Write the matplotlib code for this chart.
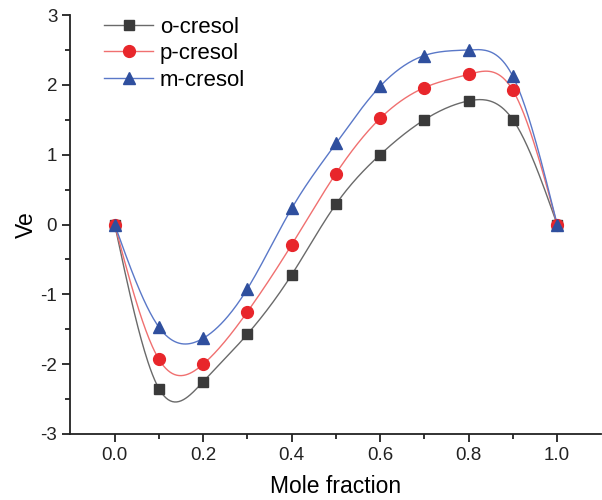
import numpy as np
import matplotlib.pyplot as plt

x = [0.0, 0.1, 0.2, 0.3, 0.4, 0.5, 0.6, 0.7, 0.8, 0.9, 1.0]
o_cresol = [0.0, -2.35, -2.25, -1.57, -0.72, 0.29, 1.0, 1.5, 1.77, 1.5, 0.0]
p_cresol = [0.0, -1.93, -2.0, -1.25, -0.29, 0.73, 1.52, 1.96, 2.15, 1.92, 0.0]
m_cresol = [0.0, -1.47, -1.63, -0.92, 0.23, 1.16, 1.98, 2.42, 2.5, 2.12, 0.0]


def natural_spline(xs, ys, n=400):
    # plain natural cubic spline, only used to draw the smooth connecting line
    xs = np.asarray(xs, float)
    ys = np.asarray(ys, float)
    k = len(xs)
    h = np.diff(xs)
    A = np.zeros((k, k))
    b = np.zeros(k)
    A[0, 0] = A[-1, -1] = 1
    for i in range(1, k - 1):
        A[i, i - 1] = h[i - 1]
        A[i, i] = 2 * (h[i - 1] + h[i])
        A[i, i + 1] = h[i]
        b[i] = 3 * ((ys[i + 1] - ys[i]) / h[i] - (ys[i] - ys[i - 1]) / h[i - 1])
    c = np.linalg.solve(A, b)
    xf = np.linspace(xs[0], xs[-1], n)
    idx = np.clip(np.searchsorted(xs, xf) - 1, 0, k - 2)
    dx = xf - xs[idx]
    bb = (ys[idx + 1] - ys[idx]) / h[idx] - h[idx] * (2 * c[idx] + c[idx + 1]) / 3
    dd = (c[idx + 1] - c[idx]) / (3 * h[idx])
    yf = ys[idx] + bb * dx + c[idx] * dx ** 2 + dd * dx ** 3
    return xf, yf


plt.rcParams['font.family'] = ['Liberation Sans', 'DejaVu Sans']
plt.rcParams['axes.unicode_minus'] = False

fig = plt.figure(figsize=(6.02, 5.0), dpi=100)
ax = fig.add_axes([0.117, 0.132, 0.882, 0.838])

series = [
    ('o-cresol', o_cresol, 's', '#3a3a3a', '#6a6a6a', 7.5),
    ('p-cresol', p_cresol, 'o', '#e8262b', '#f07070', 8.5),
    ('m-cresol', m_cresol, '^', '#2f4f9e', '#5a78c8', 9),
]

for name, ys, mk, mcol, lcol, ms in series:
    xf, yf = natural_spline(x, ys)
    ax.plot(xf, yf, color=lcol, lw=1.0, zorder=2)
    ax.plot(x, ys, linestyle='none', marker=mk, color=mcol, ms=ms, zorder=3)
    ax.plot([], [], color=lcol, lw=1.0, marker=mk, mfc=mcol, mec=mcol, ms=ms, label=name)

ax.set_xlim(-0.1, 1.1)
ax.set_ylim(-3, 3)
ax.set_xticks([0.0, 0.2, 0.4, 0.6, 0.8, 1.0])
ax.set_xticks([0.1, 0.3, 0.5, 0.7, 0.9], minor=True)
ax.set_yticks([-3, -2, -1, 0, 1, 2, 3])
ax.set_yticks([-2.5, -1.5, -0.5, 0.5, 1.5, 2.5], minor=True)
ax.xaxis.set_major_formatter(plt.FormatStrFormatter('%.1f'))

for side in ('top', 'right'):
    ax.spines[side].set_visible(False)
for side in ('left', 'bottom'):
    ax.spines[side].set_linewidth(1.3)
    ax.spines[side].set_color('#222222')

ax.tick_params(which='major', direction='out', length=6, width=1.3, labelsize=13.5, colors='#222222')
ax.tick_params(which='minor', direction='out', length=3.5, width=1.3, colors='#222222')

ax.set_xlabel('Mole fraction', fontsize=16.5, labelpad=8)
ax.set_ylabel('Ve', fontsize=16.5, labelpad=1.5)

ax.legend(loc='upper left', bbox_to_anchor=(0.026, 1.044), frameon=False, fontsize=16,
          handlelength=2.2, handletextpad=0.3, labelspacing=0.25)

plt.savefig('out.png', dpi=100)
